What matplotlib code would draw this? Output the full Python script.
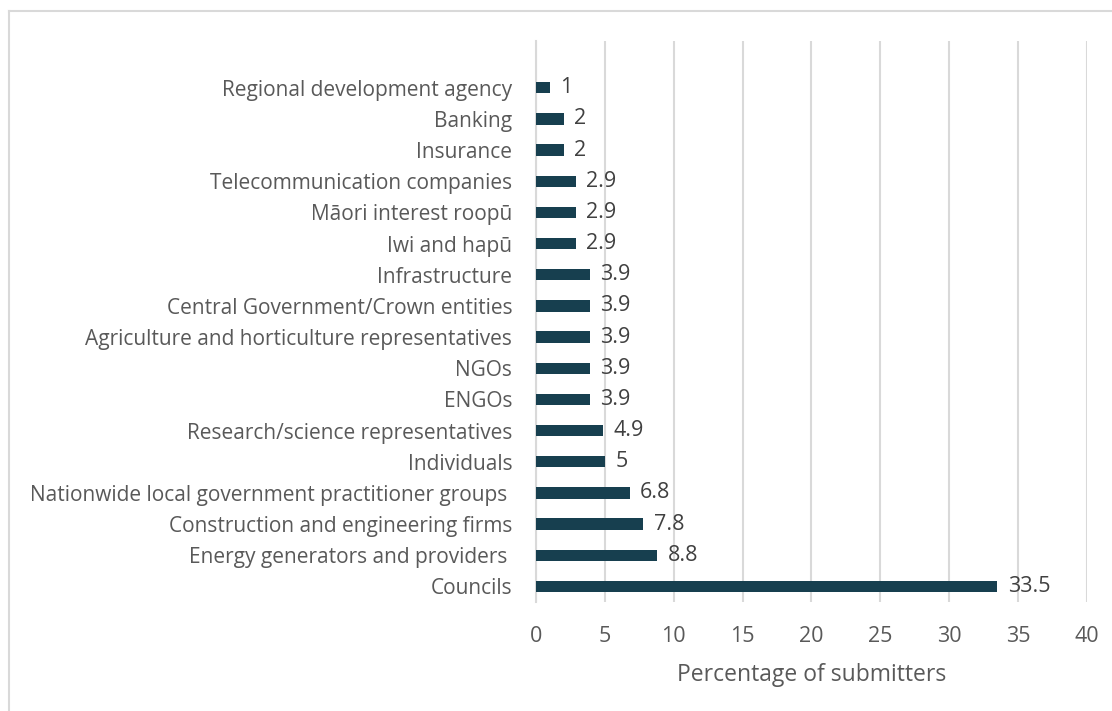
import matplotlib
matplotlib.use("Agg")
import matplotlib.pyplot as plt
from matplotlib.lines import Line2D

# Категории снизу вверх (как в исходной диаграмме)
categories = [
    "Councils",
    "Energy generators and providers ",
    "Construction and engineering firms",
    "Nationwide local government practitioner groups ",
    "Individuals",
    "Research/science representatives",
    "ENGOs",
    "NGOs",
    "Agriculture and horticulture representatives",
    "Central Government/Crown entities",
    "Infrastructure",
    "Iwi and hapū",
    "Māori interest roopū",
    "Telecommunication companies",
    "Insurance",
    "Banking",
    "Regional development agency",
]
percentages = [33.5, 8.8, 7.8, 6.8, 5, 4.9, 3.9, 3.9, 3.9, 3.9, 3.9, 2.9, 2.9, 2.9, 2, 2, 1]
x_ticks = [0, 5, 10, 15, 20, 25, 30, 35, 40]

plt.rcParams['font.family'] = ['Open Sans', 'DejaVu Sans']

fig = plt.figure(figsize=(11.12, 7.11), dpi=100)
ax = fig.add_axes([0.482, 0.1533, 0.4955, 0.789])

bar_color = '#173f4f'
y = list(range(len(categories)))
ax.barh(y, percentages, height=0.36, color=bar_color, zorder=3)

# Подписи значений справа от столбцов
for yi, v in zip(y, percentages):
    ax.annotate(f"{v:g}", (v, yi), xytext=(7.5, 0), textcoords='offset points',
                va='center', ha='left', fontsize=15.5, color='#404040')

ax.set_xlim(0, 40)
ax.set_ylim(-0.5, 17.5)
ax.set_xticks(x_ticks)
ax.set_yticks(y)
ax.set_yticklabels(categories)
ax.tick_params(axis='y', length=0, pad=17, labelsize=15, labelcolor='#595959')
ax.tick_params(axis='x', length=0, pad=17, labelsize=15.5, labelcolor='#595959')
ax.grid(axis='x', color='#d9d9d9', linewidth=1.5, zorder=0)
for side in ['top', 'right', 'bottom']:
    ax.spines[side].set_visible(False)
ax.spines['left'].set_color('#d9d9d9')
ax.spines['left'].set_linewidth(1.5)

ax.set_xlabel("Percentage of submitters", fontsize=16.5, color='#595959', labelpad=12)

# Рамка вокруг диаграммы (верх и левый край)
fig.add_artist(Line2D([9 / 1112, 1.0], [1 - 11 / 711, 1 - 11 / 711],
                      transform=fig.transFigure, color='#d9d9d9', linewidth=1.5))
fig.add_artist(Line2D([9 / 1112, 9 / 1112], [0.0, 1 - 11 / 711],
                      transform=fig.transFigure, color='#d9d9d9', linewidth=1.5))

fig.savefig("out.png", dpi=100)
